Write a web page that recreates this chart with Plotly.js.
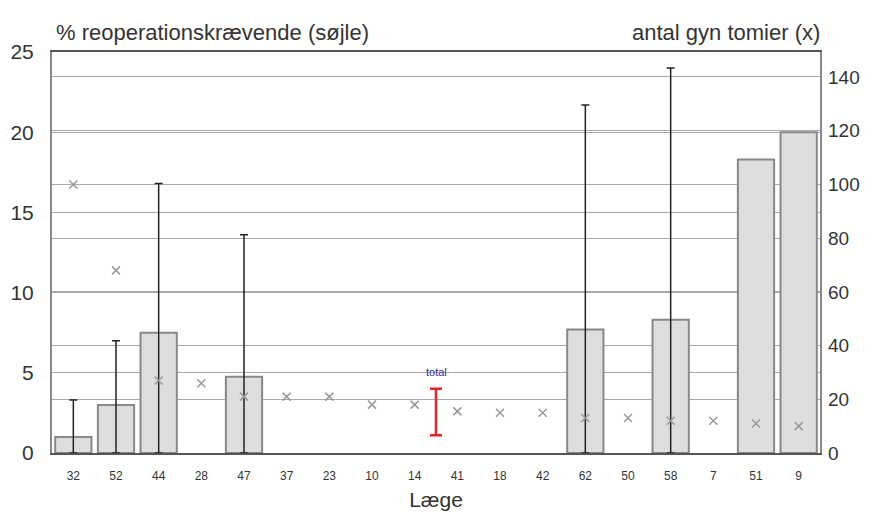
<!DOCTYPE html>
<html>
<head>
<meta charset="utf-8">
<script src="https://cdn.plot.ly/plotly-3.0.1.min.js"></script>
<style>html,body{margin:0;padding:0;background:#fff;}#chart{width:881px;height:530px;}</style>
</head>
<body>
<div id="chart"></div>
<script>
// Data
const doctors = ["32","52","44","28","47","37","23","10","14","41","18","42","62","50","58","7","51","9"];
const reopPct = [1.0, 3.0, 7.5, null, 4.75, null, null, null, null, null, null, null, 7.7, null, 8.3, null, 18.3, 20.0];
const reopUpper = [3.3, 7.0, 16.8, null, 13.6, null, null, null, null, null, null, null, 21.7, null, 24.0, null, null, null];
const numOps = [100, 68, 27, 26, 21, 21, 21, 18, 18, 15.5, 15, 15, 13, 13, 12, 12, 11, 10];
const totalLow = 1.1;
const totalHigh = 4.0;
const totalPos = 8.5;

const idx = doctors.map((d, i) => i);
const errIdx = idx.filter(i => reopPct[i] !== null && reopUpper[i] !== null);
const errX = errIdx;
const errY = errIdx.map(i => reopPct[i]);
const errPlus = errIdx.map(i => reopUpper[i] - reopPct[i]);
const errMinus = errIdx.map(i => reopPct[i]);
const totalMid = (totalLow + totalHigh) / 2;

const textColor = '#333';
const fontFam = 'Liberation Sans, Arial, sans-serif';

const traces = [
  {
    type: 'bar',
    x: idx,
    y: reopPct,
    width: 0.85,
    marker: {color: '#dedede', line: {color: '#888', width: 2}},
    yaxis: 'y',
    hoverinfo: 'skip'
  },
  {
    type: 'scatter',
    mode: 'markers',
    x: errX,
    y: errY,
    yaxis: 'y',
    marker: {size: 1, color: 'rgba(0,0,0,0)'},
    error_y: {type: 'data', symmetric: false, array: errPlus, arrayminus: errMinus,
              color: '#222', thickness: 1.5, width: 4},
    hoverinfo: 'skip'
  },
  {
    type: 'scatter',
    mode: 'markers',
    x: idx,
    y: numOps,
    yaxis: 'y2',
    marker: {symbol: 'x-thin', size: 8, line: {color: '#999', width: 1.5}, color: '#999'},
    hoverinfo: 'skip'
  },
  {
    type: 'scatter',
    mode: 'markers',
    x: [totalPos],
    y: [totalMid],
    yaxis: 'y',
    marker: {size: 1, color: 'rgba(0,0,0,0)'},
    error_y: {type: 'data', symmetric: true, array: [totalHigh - totalMid], color: '#e8202a', thickness: 2.5, width: 6},
    hoverinfo: 'skip'
  }
];

const layout = {
  width: 881,
  height: 530,
  margin: {l: 52, r: 61, t: 52, b: 77},
  paper_bgcolor: '#fff',
  plot_bgcolor: '#fff',
  showlegend: false,
  font: {family: fontFam, color: textColor},
  xaxis: {
    range: [-0.5, 17.5],
    tickmode: 'array',
    tickvals: idx,
    ticktext: doctors,
    tickfont: {size: 12, color: textColor},
    ticks: '',
    ticklabelstandoff: 11,
    showgrid: false,
    zeroline: false,
    showline: true,
    linecolor: '#555',
    linewidth: 2,
    mirror: true,
    title: {text: 'Læge', font: {size: 21, color: textColor}, standoff: 10}
  },
  yaxis: {
    range: [0, 25],
    tickvals: [0, 5, 10, 15, 20, 25],
    tickfont: {size: 21, color: textColor},
    ticks: '',
    ticklabelstandoff: 12,
    showgrid: true,
    gridcolor: '#aaa',
    gridwidth: 1,
    zeroline: false,
    showline: true,
    linecolor: '#888',
    linewidth: 2,
    mirror: true
  },
  yaxis2: {
    overlaying: 'y',
    side: 'right',
    range: [0, 149.3],
    tickvals: [0, 20, 40, 60, 80, 100, 120, 140],
    tickfont: {size: 19, color: textColor},
    ticks: '',
    ticklabelstandoff: 7,
    showgrid: true,
    gridcolor: '#aaa',
    gridwidth: 1,
    zeroline: false,
    showline: false
  },
  annotations: [
    {xref: 'paper', yref: 'paper', x: 0.002, y: 1, xanchor: 'left', yanchor: 'bottom', yshift: 5,
     text: '% reoperationskrævende (søjle)', showarrow: false, font: {size: 22, color: textColor}},
    {xref: 'paper', yref: 'paper', x: 1.003, y: 1, xanchor: 'right', yanchor: 'bottom', yshift: 5,
     text: 'antal gyn tomier (x)', showarrow: false, font: {size: 22, color: textColor}},
    {xref: 'x', yref: 'y', x: totalPos, y: totalHigh, xanchor: 'center', yanchor: 'bottom', yshift: 9,
     text: 'total', showarrow: false, font: {size: 11, color: '#2a2aa0'}}
  ]
};

Plotly.newPlot('chart', traces, layout, {displayModeBar: false, staticPlot: true});
</script>
</body>
</html>
